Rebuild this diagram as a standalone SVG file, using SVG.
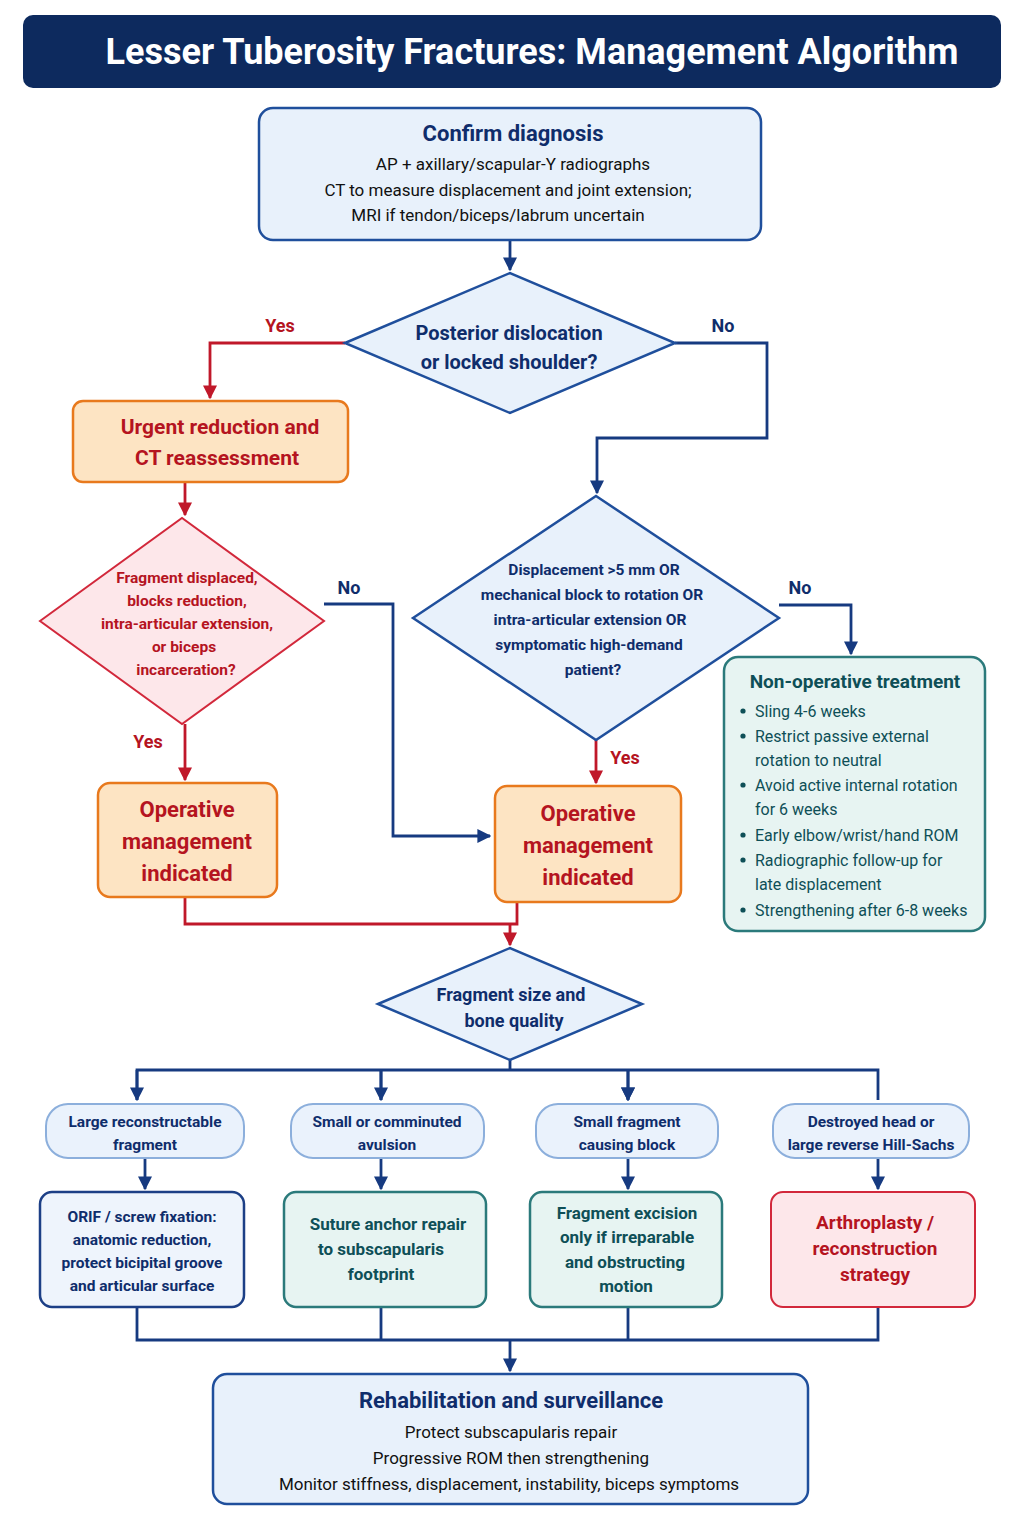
<svg xmlns="http://www.w3.org/2000/svg" width="1024" height="1536" viewBox="0 0 1024 1536">
<style>
text{font-family:Roboto,"Liberation Sans",sans-serif;text-anchor:middle}
.b{font-weight:700}
.nv{fill:#0f2d6b}.rd{fill:#b5141f}.tl{fill:#0e4f57}.bk{fill:#111}
.blue{fill:#e8f1fb;stroke:#1f4f9c;stroke-width:2.5}
.org{fill:#fde4c3;stroke:#e8791d;stroke-width:2.5}
.rdd{fill:#fde7ea;stroke:#d2283b;stroke-width:2}
.teal{fill:#e7f4f2;stroke:#2b7a7b;stroke-width:2.5}
.pill{fill:#eaf2fc;stroke:#8cafdc;stroke-width:2}
.ln{fill:none;stroke:#163a80;stroke-width:2.8}
.lr{fill:none;stroke:#c0182a;stroke-width:2.8}
</style>
<defs>
<marker id="an" viewBox="0 0 10 10" refX="9" refY="5" markerWidth="5" markerHeight="5" orient="auto"><path d="M0,0L10,5L0,10z" fill="#163a80"/></marker>
<marker id="ar" viewBox="0 0 10 10" refX="9" refY="5" markerWidth="5" markerHeight="5" orient="auto"><path d="M0,0L10,5L0,10z" fill="#c0182a"/></marker>
</defs>
<rect width="1024" height="1536" fill="#fff"/>
<g id="title"><rect x="23" y="15" width="978" height="73" rx="10" fill="#0d2a5e"/><text x="532" y="64" class="b" font-size="36" fill="#fff">Lesser Tuberosity Fractures: Management Algorithm</text></g>
<g id="connectors">
<path class="ln" d="M510,240V270" marker-end="url(#an)"/>
<path class="lr" d="M345,343H210V398" marker-end="url(#ar)"/>
<path class="ln" d="M675,343H767V438H597V493" marker-end="url(#an)"/>
<path class="lr" d="M185,482V515" marker-end="url(#ar)"/>
<path class="ln" d="M324,604H393V836H490" marker-end="url(#an)"/>
<path class="lr" d="M185,724V780" marker-end="url(#ar)"/>
<path class="ln" d="M779,605H851V654" marker-end="url(#an)"/>
<path class="lr" d="M596,740V783" marker-end="url(#ar)"/>
<path class="lr" d="M185,897V924H510M517,902V924H510V945" marker-end="url(#ar)"/>
<path class="ln" d="M510,1060V1070M137,1100V1070H878V1100M381,1070V1100M628,1070V1100" marker-end="url(#an)"/>
<path class="ln" d="M137,1070V1100" marker-end="url(#an)"/>
<path class="ln" d="M381,1070V1100" marker-end="url(#an)"/>
<path class="ln" d="M628,1070V1100" marker-end="url(#an)"/>
<path class="ln" d="M145,1158V1189" marker-end="url(#an)"/>
<path class="ln" d="M381,1158V1189" marker-end="url(#an)"/>
<path class="ln" d="M628,1158V1189" marker-end="url(#an)"/>
<path class="ln" d="M878,1158V1189" marker-end="url(#an)"/>
<path class="ln" d="M137,1307V1340H878V1307M381,1307V1340M628,1307V1340M510,1340V1371" marker-end="url(#an)"/>
<text x="280" y="332" class="b rd" font-size="18">Yes</text>
<text x="723" y="332" class="b nv" font-size="18">No</text>
<text x="349" y="594" class="b nv" font-size="18">No</text>
<text x="148" y="748" class="b rd" font-size="18">Yes</text>
<text x="800" y="594" class="b nv" font-size="18">No</text>
<text x="625" y="764" class="b rd" font-size="18">Yes</text>
</g>
<g id="confirm"><rect x="259" y="108" width="502" height="132" rx="14" class="blue"/>
<text x="513" y="141" class="b nv" font-size="22">Confirm diagnosis</text>
<text x="513" y="170" class="bk" font-size="17">AP + axillary/scapular-Y radiographs</text>
<text x="508" y="196" class="bk" font-size="17">CT to measure displacement and joint extension;</text>
<text x="498" y="221" class="bk" font-size="17">MRI if tendon/biceps/labrum uncertain</text></g>
<g id="d1"><polygon points="345,343 510,273 675,343 510,413" class="blue"/>
<text x="509" y="340" class="b nv" font-size="20">Posterior dislocation</text>
<text x="509" y="369" class="b nv" font-size="20">or locked shoulder?</text></g>
<g id="urgent"><rect x="73" y="401" width="275" height="81" rx="10" class="org"/>
<text x="220" y="434" class="b rd" font-size="21">Urgent reduction and</text>
<text x="217" y="465" class="b rd" font-size="21">CT reassessment</text></g>
<g id="d2"><polygon points="40,621 182,518 324,621 182,724" class="rdd"/>
<text x="187" y="583" class="b rd" font-size="15.5">Fragment displaced,</text>
<text x="187" y="606" class="b rd" font-size="15.5">blocks reduction,</text>
<text x="187" y="629" class="b rd" font-size="15.5">intra-articular extension,</text>
<text x="184" y="652" class="b rd" font-size="15.5">or biceps</text>
<text x="186" y="675" class="b rd" font-size="15.5">incarceration?</text></g>
<g id="op1"><rect x="98" y="783" width="179" height="114" rx="12" class="org"/>
<text x="187" y="817" class="b rd" font-size="22">Operative</text>
<text x="187" y="849" class="b rd" font-size="22">management</text>
<text x="187" y="881" class="b rd" font-size="22">indicated</text></g>
<g id="d3"><polygon points="413,618 596,496 779,618 596,740" class="blue"/>
<text x="594" y="575" class="b nv" font-size="15.5">Displacement &gt;5 mm OR</text>
<text x="592" y="600" class="b nv" font-size="15.5">mechanical block to rotation OR</text>
<text x="590" y="625" class="b nv" font-size="15.5">intra-articular extension OR</text>
<text x="589" y="650" class="b nv" font-size="15.5">symptomatic high-demand</text>
<text x="593" y="675" class="b nv" font-size="15.5">patient?</text></g>
<g id="op2"><rect x="495" y="786" width="186" height="116" rx="12" class="org"/>
<text x="588" y="821" class="b rd" font-size="22">Operative</text>
<text x="588" y="853" class="b rd" font-size="22">management</text>
<text x="588" y="885" class="b rd" font-size="22">indicated</text></g>
<g id="nonop"><rect x="724" y="657" width="261" height="274" rx="14" class="teal"/>
<text x="855" y="688" class="b tl" font-size="19">Non-operative treatment</text>
<g class="tl" font-size="16" style="text-anchor:start">
<circle cx="743" cy="711" r="2.6" fill="#0e4f57"/><text x="755" y="717" style="text-anchor:start">Sling 4-6 weeks</text>
<circle cx="743" cy="736" r="2.6" fill="#0e4f57"/><text x="755" y="742" style="text-anchor:start">Restrict passive external</text>
<text x="755" y="766" style="text-anchor:start">rotation to neutral</text>
<circle cx="743" cy="785" r="2.6" fill="#0e4f57"/><text x="755" y="791" style="text-anchor:start">Avoid active internal rotation</text>
<text x="755" y="815" style="text-anchor:start">for 6 weeks</text>
<circle cx="743" cy="835" r="2.6" fill="#0e4f57"/><text x="755" y="841" style="text-anchor:start">Early elbow/wrist/hand ROM</text>
<circle cx="743" cy="860" r="2.6" fill="#0e4f57"/><text x="755" y="866" style="text-anchor:start">Radiographic follow-up for</text>
<text x="755" y="890" style="text-anchor:start">late displacement</text>
<circle cx="743" cy="910" r="2.6" fill="#0e4f57"/><text x="755" y="916" style="text-anchor:start">Strengthening after 6-8 weeks</text>
</g></g>
<g id="d4"><polygon points="378,1004 510,948 642,1004 510,1060" class="blue"/>
<text x="511" y="1001" class="b nv" font-size="18">Fragment size and</text>
<text x="514" y="1027" class="b nv" font-size="18">bone quality</text></g>
<g id="p1"><rect x="46" y="1104" width="198" height="54" rx="22" class="pill"/><text x="145" y="1127" class="b nv" font-size="15.5">Large reconstructable</text><text x="145" y="1150" class="b nv" font-size="15.5">fragment</text></g>
<g id="p2"><rect x="291" y="1104" width="193" height="54" rx="22" class="pill"/><text x="387" y="1127" class="b nv" font-size="15.5">Small or comminuted</text><text x="387" y="1150" class="b nv" font-size="15.5">avulsion</text></g>
<g id="p3"><rect x="536" y="1104" width="182" height="54" rx="22" class="pill"/><text x="627" y="1127" class="b nv" font-size="15.5">Small fragment</text><text x="627" y="1150" class="b nv" font-size="15.5">causing block</text></g>
<g id="p4"><rect x="773" y="1104" width="196" height="54" rx="22" class="pill"/><text x="871" y="1127" class="b nv" font-size="15.5">Destroyed head or</text><text x="871" y="1150" class="b nv" font-size="15.5">large reverse Hill-Sachs</text></g>
<g id="orif"><rect x="40" y="1192" width="204" height="115" rx="12" fill="#eef4fc" stroke="#1c3f86" stroke-width="2.5"/>
<text x="142" y="1222" class="b nv" font-size="15.5">ORIF / screw fixation:</text>
<text x="142" y="1245" class="b nv" font-size="15.5">anatomic reduction,</text>
<text x="142" y="1268" class="b nv" font-size="15.5">protect bicipital groove</text>
<text x="142" y="1291" class="b nv" font-size="15.5">and articular surface</text></g>
<g id="suture"><rect x="284" y="1192" width="202" height="115" rx="12" class="teal"/>
<text x="388" y="1230" class="b tl" font-size="17">Suture anchor repair</text>
<text x="381" y="1255" class="b tl" font-size="17">to subscapularis</text>
<text x="381" y="1280" class="b tl" font-size="17">footprint</text></g>
<g id="excision"><rect x="530" y="1192" width="192" height="115" rx="12" class="teal"/>
<text x="627" y="1219" class="b tl" font-size="17">Fragment excision</text>
<text x="627" y="1243" class="b tl" font-size="17">only if irreparable</text>
<text x="625" y="1268" class="b tl" font-size="17">and obstructing</text>
<text x="626" y="1292" class="b tl" font-size="17">motion</text></g>
<g id="arthro"><rect x="771" y="1192" width="204" height="115" rx="12" class="rdd" stroke-width="2.5"/>
<text x="875" y="1229" class="b rd" font-size="19">Arthroplasty /</text>
<text x="875" y="1255" class="b rd" font-size="19">reconstruction</text>
<text x="875" y="1281" class="b rd" font-size="19">strategy</text></g>
<g id="rehab"><rect x="213" y="1374" width="595" height="130" rx="14" class="blue"/>
<text x="511" y="1408" class="b nv" font-size="22">Rehabilitation and surveillance</text>
<text x="511" y="1438" class="bk" font-size="17">Protect subscapularis repair</text>
<text x="511" y="1464" class="bk" font-size="17">Progressive ROM then strengthening</text>
<text x="509" y="1490" class="bk" font-size="17">Monitor stiffness, displacement, instability, biceps symptoms</text></g>
</svg>
